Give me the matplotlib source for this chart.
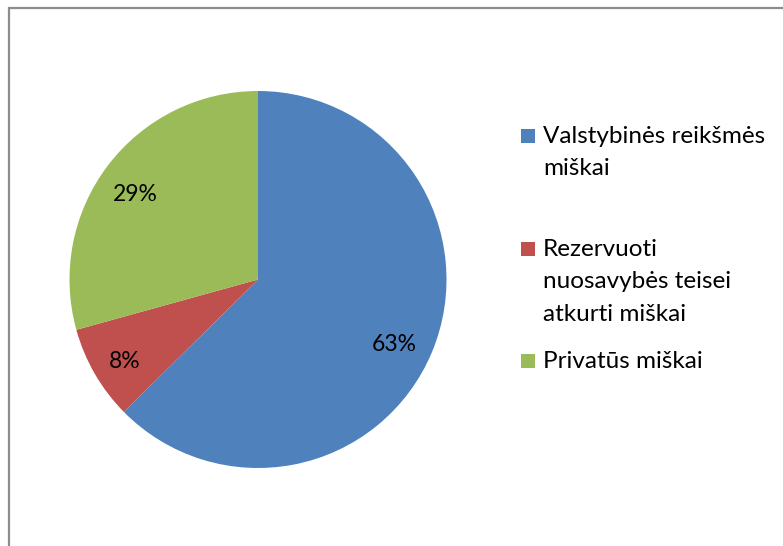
import matplotlib
matplotlib.use("Agg")
import matplotlib.pyplot as plt
from matplotlib.patches import Rectangle

categories = ["Valstybinės reikšmės\nmiškai", "Rezervuoti\nnuosavybės teisei\natkurti miškai", "Privatūs miškai"]
values = [62.6, 8.1, 29.3]
colors = ["#4F81BD", "#C0504D", "#9BBB59"]

W, H = 783, 546
plt.rcParams['font.family'] = ['Lato', 'DejaVu Sans']
fig = plt.figure(figsize=(W / 100, H / 100), dpi=100)

# chart border
fig.add_artist(Rectangle((8.5 / W, -0.05), 1.2, 1 - 8.5 / H + 0.05, transform=fig.transFigure,
                         fill=False, edgecolor="#8c8c8c", linewidth=1.6))

cx, cy, r = 258, 279.5, 188.5
ax = fig.add_axes([(cx - r) / W, (H - cy - r) / H, 2 * r / W, 2 * r / H])
wedges, texts, autotexts = ax.pie(values, colors=colors, startangle=90, counterclock=False, radius=1,
       autopct=lambda p: f"{p:.0f}%", pctdistance=0.80,
       textprops=dict(fontsize=16.5, color="black"),
       wedgeprops=dict(linewidth=0))
for t in autotexts:
    x, y = t.get_position()
    t.set_position((x - 0.015, y - 0.035))
ax.set_xlim(-1, 1)
ax.set_ylim(-1, 1)
ax.set_aspect('equal')
ax.axis('off')

# legend
first_baselines = [142.7, 255.7, 368]
line_step = 32.5
for lab, col, b0 in zip(categories, colors, first_baselines):
    fig.add_artist(Rectangle((521 / W, (H - b0) / H), 14 / W, 14 / H,
                             transform=fig.transFigure, facecolor=col, edgecolor='none'))
    for i, line in enumerate(lab.split("\n")):
        fig.text(543 / W, (H - (b0 + i * line_step)) / H, line, fontsize=17.5,
                 va='baseline', ha='left', color='black')

fig.savefig("out.png", dpi=100)
